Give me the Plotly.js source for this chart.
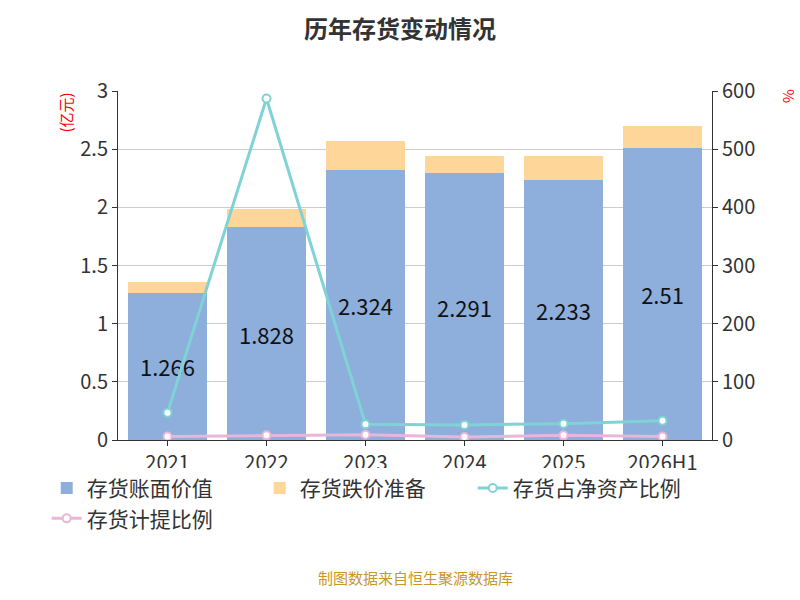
<html><head><meta charset="utf-8">
<script src="https://cdn.plot.ly/plotly-3.0.1.min.js"></script>
<style>body{margin:0}</style></head><body>
<div id="plot" style="width:800px;height:600px"></div>
<script>
const years = ["2021", "2022", "2023", "2024", "2025", "2026H1"];
const bookValue = [1.266, 1.828, 2.324, 2.291, 2.233, 2.51];
const reserve = [0.09, 0.16, 0.25, 0.15, 0.21, 0.19];
const ratioNetAssets = [47, 587, 27, 26, 28, 33];
const ratioProvision = [6, 8, 9, 5, 8, 6];

const font = "Noto Sans CJK SC, sans-serif";

Plotly.newPlot("plot", [
    {
        type: "bar", x: years, y: bookValue, name: "存货账面价值",
        marker: {color: "#8eaedb"},
        text: bookValue.map(String), textposition: "inside",
        insidetextanchor: "middle",
        textfont: {size: 22, color: "#111"}
    },
    {
        type: "bar", x: years, y: reserve, name: "存货跌价准备",
        marker: {color: "#ffd699"}, hoverinfo: "y"
    },
    {
        type: "scatter", x: years, y: ratioNetAssets, yaxis: "y2",
        name: "存货占净资产比例", mode: "lines+markers",
        line: {color: "#7fd3d6", width: 3},
        marker: {size: 8, color: "#fff", line: {color: "#7fd3d6", width: 2}}
    },
    {
        type: "scatter", x: years, y: ratioProvision, yaxis: "y2",
        name: "存货计提比例", mode: "lines+markers",
        line: {color: "#e8b6d8", width: 3},
        marker: {size: 8, color: "#fff", line: {color: "#e8b6d8", width: 2}}
    }
], {
    barmode: "stack",
    bargap: 0.2,
    font: {family: font, size: 20, color: "#333"},
    title: {text: "<b>历年存货变动情况</b>", x: 0.5, y: 0.965, font: {size: 24, color: "#333"}},
    margin: {l: 118, r: 88, t: 91, b: 160},
    paper_bgcolor: "#fff", plot_bgcolor: "#fff",
    xaxis: {type: "category", showline: true, linecolor: "#333", ticks: "outside", tickcolor: "#333"},
    yaxis: {range: [0, 3], dtick: 0.5, gridcolor: "#ccc", showline: true,
            linecolor: "#333", ticks: "outside", tickcolor: "#333", zeroline: false},
    yaxis2: {range: [0, 600], dtick: 100, overlaying: "y", side: "right",
             showgrid: false, showline: true, linecolor: "#333",
             ticks: "outside", tickcolor: "#333", zeroline: false},
    legend: {orientation: "h", traceorder: "normal", x: -0.12, y: -0.08,
             xanchor: "left", yanchor: "top", font: {size: 21}},
    annotations: [
        {text: "(亿元)", xref: "paper", yref: "paper", x: -0.09, y: 1, textangle: -90,
         showarrow: false, xanchor: "center", yanchor: "top", font: {size: 15, color: "red"}},
        {text: "%", xref: "paper", yref: "paper", x: 1.13, y: 1.01, textangle: 90,
         showarrow: false, xanchor: "center", yanchor: "top", font: {size: 15, color: "red"}},
        {text: "制图数据来自恒生聚源数据库", xref: "paper", yref: "paper", x: 0.5, y: -0.43,
         showarrow: false, font: {size: 15, color: "#c8962a"}}
    ]
}, {displayModeBar: false});
</script></body></html>
